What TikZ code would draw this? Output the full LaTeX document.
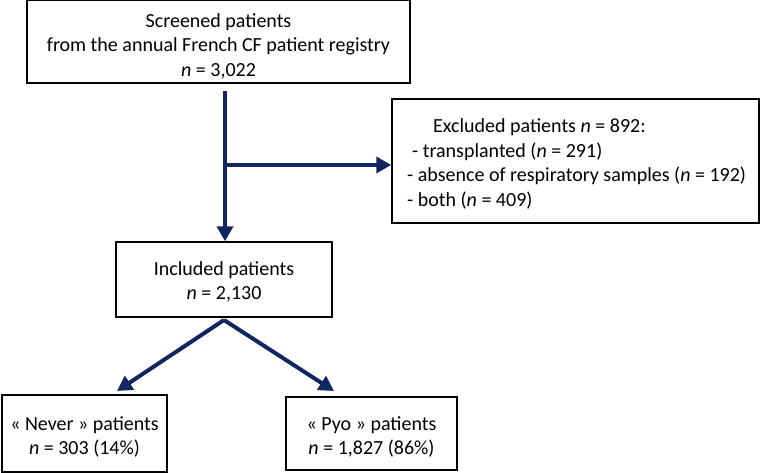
\documentclass[tikz,border=0pt]{standalone}
\usepackage{fontspec}
\setmainfont{Carlito}
\usetikzlibrary{arrows.meta}
\definecolor{navy}{RGB}{16,38,98}
\tikzset{
  box/.style={draw=black, line width=1.5pt, inner sep=0pt},
  arr/.style={draw=navy, line width=4pt, -{Triangle[length=15pt,width=16pt]}},
  txt/.style={font=\fontsize{20}{24.5}\selectfont, align=center, inner sep=0pt},
}
\begin{document}
\begin{tikzpicture}[x=1pt,y=-1pt]
\useasboundingbox (0,0) rectangle (760,473);
% boxes
\node[box, minimum width=383pt, minimum height=83pt] (scr) at (218.5,41.5) {};
\node[box, minimum width=367pt, minimum height=124pt] (exc) at (575.5,161) {};
\node[box, minimum width=216pt, minimum height=75pt] (inc) at (224,279.5) {};
\node[box, minimum width=165pt, minimum height=77pt] (nev) at (84.5,433.5) {};
\node[box, minimum width=171pt, minimum height=73pt] (pyo) at (371.5,433.5) {};
% texts
\node[txt] (scrt) at (218.5,46) {Screened patients\\from the annual French CF patient registry\\\textit{n} = 3,022};
\node[txt, align=left, anchor=west] (exct) at (407,164) {\hspace*{26pt}Excluded patients \textit{n} = 892:\\\hspace*{5pt}- transplanted (\textit{n} = 291)\\- absence of respiratory samples (\textit{n} = 192)\\- both (\textit{n} = 409)};
\node[txt] (inct) at (224,282) {Included patients\\\textit{n} = 2,130};
\node[txt] (nevt) at (84.5,437) {« Never » patients\\\textit{n} = 303 (14\%)};
\node[txt] (pyot) at (371.5,437) {« Pyo » patients\\\textit{n} = 1,827 (86\%)};
% connectors
\coordinate (start) at (225,91);
\coordinate (branch) at (225,165);
\draw[arr] (start) -- (inc.north -| start);
\draw[arr] ([xshift=-2pt]branch) -- (branch -| exc.west);
\coordinate (split) at (224,320);
\draw[arr] (split) -- (117,391);
\draw[arr] (split) -- (334,391);
\end{tikzpicture}
\end{document}
